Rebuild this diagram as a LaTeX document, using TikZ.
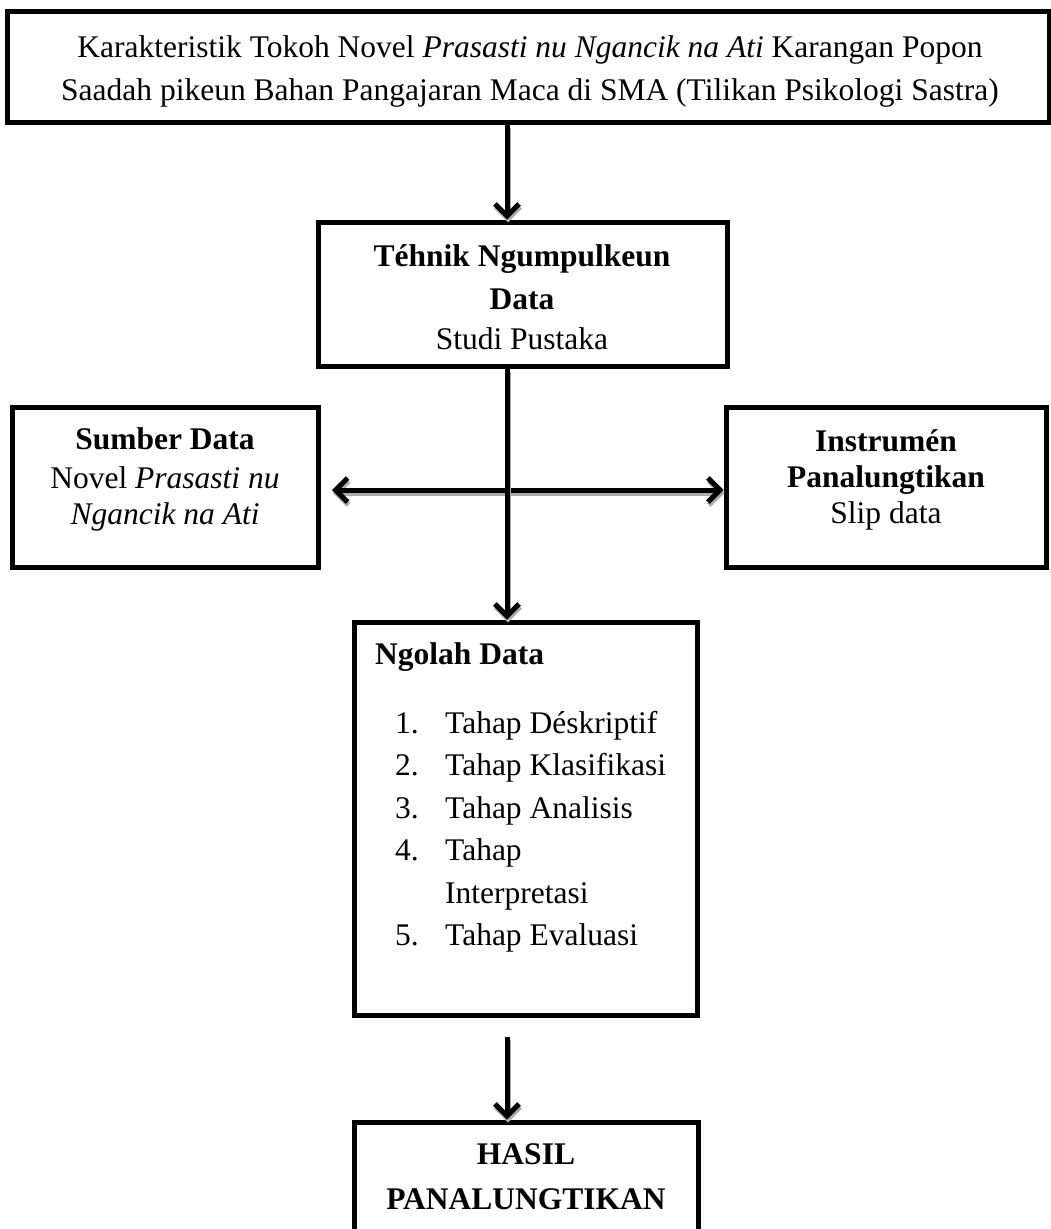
\documentclass[tikz,border=0pt]{standalone}
\usepackage{fontspec}
\setmainfont{Liberation Serif}
\usetikzlibrary{arrows.meta}
\tikzset{
  box/.style={draw, line width=5pt, rectangle, inner sep=0pt},
  txt/.style={anchor=base, inner sep=0pt},
  txtl/.style={anchor=base west, inner sep=0pt},
  arrowline/.style={line width=5pt, -{Straight Barb[length=12pt,width=24pt]}},
  arrowboth/.style={line width=5pt, {Straight Barb[length=12pt,width=24pt]}-{Straight Barb[length=12pt,width=24pt]}},
  shadowed/.style={draw=gray!65, transform canvas={shift={(1pt,-3pt)}}},
}
\begin{document}
\begin{tikzpicture}[x=1pt,y=-1pt,font=\fontsize{31.5pt}{36pt}\selectfont]
\useasboundingbox (0,0) rectangle (1051,1229);
\clip (0,0) rectangle (1051,1229);
% boxes
\node[box, minimum width=1042pt, minimum height=111pt] (top) at (528,66.5) {};
\node[box, minimum width=409pt, minimum height=144pt] (tek) at (522.5,294) {};
\node[box, minimum width=306pt, minimum height=160pt] (sumber) at (165,487) {};
\node[box, minimum width=320pt, minimum height=160pt] (instr) at (886,487) {};
\node[box, minimum width=343pt, minimum height=393pt] (ngolah) at (525.5,818.5) {};
\node[box, minimum width=344pt, minimum height=178pt] (hasil) at (526,1211) {};
% texts
\node[txt] (t1) at (530,57) {Karakteristik Tokoh Novel \textit{Prasasti nu Ngancik na Ati} Karangan Popon};
\node[txt] (t2) at (530,100) {Saadah pikeun Bahan Pangajaran Maca di SMA (Tilikan Psikologi Sastra)};
\node[txt] (k1) at (522,266) {\bfseries Téhnik Ngumpulkeun};
\node[txt] (k2) at (522,309) {\bfseries Data};
\node[txt] (k3) at (522,349) {Studi Pustaka};
\node[txt] (s1) at (165,449) {\bfseries Sumber Data};
\node[txt] (s2) at (165,488) {Novel \textit{Prasasti nu}};
\node[txt] (s3) at (165,524) {\textit{Ngancik na Ati}};
\node[txt] (i1) at (886,451) {\bfseries Instrumén};
\node[txt] (i2) at (886,487) {\bfseries Panalungtikan};
\node[txt] (i3) at (886,523) {Slip data};
\node[txtl] (n0) at (375,664) {\bfseries Ngolah Data};
\node[txtl] (n1) at (395,733) {1.};
\node[txtl] (n1t) at (445,733) {Tahap Déskriptif};
\node[txtl] (n2) at (395,775.5) {2.};
\node[txtl] (n2t) at (445,775.5) {Tahap Klasifikasi};
\node[txtl] (n3) at (395,818) {3.};
\node[txtl] (n3t) at (445,818) {Tahap Analisis};
\node[txtl] (n4) at (395,860.5) {4.};
\node[txtl] (n4t) at (445,860.5) {Tahap};
\node[txtl] (n4u) at (445,903) {Interpretasi};
\node[txtl] (n5) at (395,945.5) {5.};
\node[txtl] (n5t) at (445,945.5) {Tahap Evaluasi};
\node[txt] (h1) at (526,1164) {\bfseries HASIL};
\node[txt] (h2) at (526,1209) {\bfseries PANALUNGTIKAN};
% connectors
\coordinate (ax) at (507,0);
\coordinate (hl) at (332,490);
\coordinate (bs) at (507,1037);
\draw[arrowboth, shadowed] (hl) -- (hl -| instr.west);
\draw[arrowboth] (hl) -- (hl -| instr.west);
\draw[arrowline, shadowed] (ax |- top.south) -- (ax |- tek.north);
\draw[arrowline] (ax |- top.south) -- (ax |- tek.north);
\draw[arrowline, shadowed] (ax |- tek.south) -- (ax |- ngolah.north);
\draw[arrowline] (ax |- tek.south) -- (ax |- ngolah.north);
\draw[arrowline, shadowed] (bs) -- (bs |- hasil.north);
\draw[arrowline] (bs) -- (bs |- hasil.north);
\end{tikzpicture}
\end{document}
